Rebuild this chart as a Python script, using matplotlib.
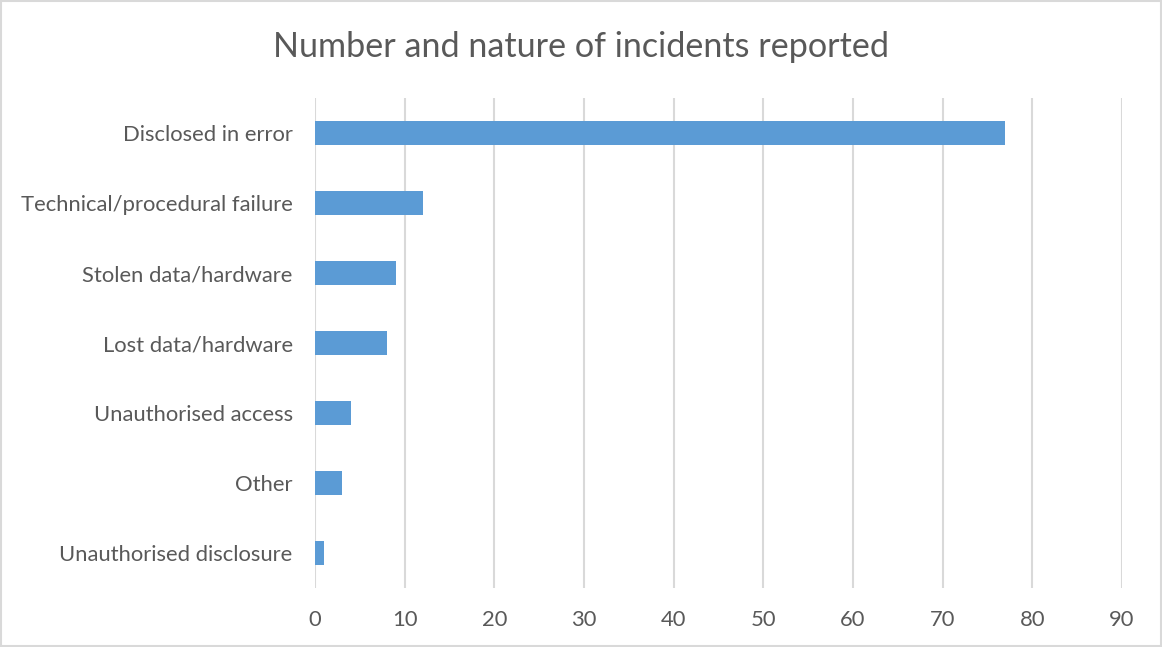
import matplotlib.pyplot as plt
from matplotlib.patches import Rectangle

categories = ["Disclosed in error", "Technical/procedural failure", "Stolen data/hardware",
              "Lost data/hardware", "Unauthorised access", "Other", "Unauthorised disclosure"]
counts = [77, 12, 9, 8, 4, 3, 1]
xticks = [0, 10, 20, 30, 40, 50, 60, 70, 80, 90]

plt.rcParams['font.family'] = ['Lato', 'DejaVu Sans']

fig = plt.figure(figsize=(11.62, 6.47), dpi=100)
ax = fig.add_axes([0.271, 0.0912, 0.6946, 0.7573])

pos = list(range(len(categories)))[::-1]
ax.barh(pos, counts, height=0.33, color='#5B9BD5', zorder=3)

ax.set_xlim(0, 90)
ax.set_ylim(-0.5, len(categories) - 0.5)
ax.set_xticks(xticks)
ax.set_xticklabels([str(t) for t in xticks])
ax.set_yticks(pos)
ax.set_yticklabels(categories)
ax.tick_params(axis='both', length=0, labelsize=15.8, colors='#595959')
ax.tick_params(axis='x', pad=16)
ax.tick_params(axis='y', pad=16)
ax.grid(axis='x', color='#D9D9D9', linewidth=1.5, zorder=0)
for s in ax.spines.values():
    s.set_visible(False)

fig.text(0.5, 0.928, "Number and nature of incidents reported", ha='center', va='center',
         fontsize=24.6, color='#595959')

fig.patches.append(Rectangle((0.001, 0.001), 0.998, 0.997, transform=fig.transFigure,
                             fill=False, edgecolor='#D9D9D9', linewidth=1.5))

fig.savefig("out.png", dpi=100)
